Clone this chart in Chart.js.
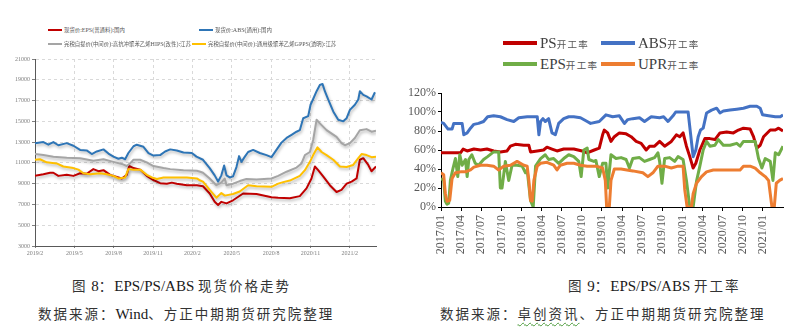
<!DOCTYPE html>
<html>
<head>
<meta charset="utf-8">
<script src="https://cdn.jsdelivr.net/npm/chart.js@4.4.0/dist/chart.umd.min.js"></script>
<style>
body { margin: 0; width: 810px; height: 330px; background: #fff; position: relative; overflow: hidden; font-family: 'Liberation Serif', serif; }
canvas { position: absolute; }
.cjk { font-family: 'Noto Sans CJK SC', sans-serif; }
.lg { position: absolute; display: flex; align-items: center; white-space: nowrap; }
.lg i { display: inline-block; flex: none; }
#legL .lg { font-size: 6px; color: #595959; height: 8px; }
#legL .lg i { width: 14px; height: 2px; margin-right: 2px; }
#legL .cjk { font-size: 5.4px; }
#legR .lg { font-size: 15px; color: #404040; height: 18px; }
#legR .lg i { width: 34px; height: 3.5px; margin-right: 3px; }
#legR .cjk { font-size: 9.5px; letter-spacing: 1.3px; color: #555; }
.cap { position: absolute; font-size: 15px; line-height: 20px; color: #1a1a1a; white-space: nowrap; }
.cap .cjk { font-size: 13.5px; letter-spacing: 2px; color: #333; }
.wavy { text-decoration: underline wavy #4a9a3a; text-decoration-thickness: 1px; text-underline-offset: 3px; }
</style>
</head>
<body>
<canvas id="priceChart" width="390" height="210" style="left:0;top:50px"></canvas>
<canvas id="rateChart" width="400" height="185" style="left:400px;top:80px"></canvas>
<div id="legL"></div>
<div id="legR"></div>
<div class="cap" id="cap8" style="left:72px;top:275px"></div>
<div class="cap" id="src8" style="left:38px;top:303px"></div>
<div class="cap" id="cap9" style="left:568px;top:275px"></div>
<div class="cap" id="src9" style="left:440px;top:303px"></div>
<script>
// ---- 图8 现货价格 (x = months since 2019/2) ----
const priceNames = ['现货价:EPS(普通料):国内', '现货价:ABS(通用):国内',
  '完税自提价(中间价):高抗冲聚苯乙烯HIPS(改性):江苏', '完税自提价(中间价):通用级聚苯乙烯GPPS(透明):江苏'];
const priceColors = ['#C00000', '#2E75B6', '#A5A5A5', '#FFC000'];
const priceTickMonths = [0, 3, 6, 9, 12, 15, 18, 21, 24];
const priceTickLabels = ['2019/2', '2019/5', '2019/8', '2019/11', '2020/2', '2020/5', '2020/8', '2020/11', '2021/2'];

const epsX = [0, 0.64, 1.15, 1.4, 1.78, 2.42, 2.93, 3.44, 3.94, 4.45, 4.83, 5.22, 5.73, 6.11, 6.62, 7.0, 7.18, 7.51, 8.02, 8.52, 9.03, 9.54, 10.05, 10.43, 10.81, 11.58, 12.34, 12.81, 13.32, 13.7, 13.96, 14.21, 14.6, 15.1, 15.87, 16.89, 18.03, 18.54, 19.43, 20.19, 20.7, 21.08, 21.34, 21.59, 21.97, 22.48, 22.99, 23.37, 23.76, 24.14, 24.52, 24.77, 25.03, 25.41, 25.66, 26.0];
const epsY = [9750, 9900, 10050, 10050, 9750, 9850, 9750, 10000, 9950, 10400, 10200, 10300, 9850, 9700, 9500, 9850, 10700, 10500, 10350, 9750, 9350, 9050, 9000, 9100, 9000, 8850, 8850, 8750, 8050, 7250, 6950, 7250, 7100, 7400, 8050, 8000, 7700, 7650, 7600, 7800, 8550, 9500, 10650, 10300, 9700, 8850, 8200, 8400, 9000, 9200, 9500, 11300, 11450, 10800, 10200, 10650];

const absX = [0, 0.64, 1.02, 1.4, 1.78, 2.42, 2.93, 3.44, 3.94, 4.33, 4.71, 5.22, 5.6, 5.98, 6.36, 6.62, 6.87, 7.12, 7.51, 7.76, 8.27, 8.65, 9.03, 9.54, 9.92, 10.31, 10.81, 11.32, 11.96, 12.31, 12.81, 13.32, 13.7, 13.96, 14.21, 14.42, 14.6, 14.85, 15.1, 15.36, 15.56, 15.74, 16.0, 16.25, 16.63, 17.14, 17.65, 18.03, 18.41, 18.79, 19.18, 19.56, 19.94, 20.19, 20.45, 20.83, 21.01, 21.21, 21.47, 21.72, 21.92, 22.1, 22.36, 22.74, 23.12, 23.5, 23.76, 24.01, 24.39, 24.65, 24.77, 25.03, 25.28, 25.66, 25.92];
const absY = [12900, 13000, 12750, 13000, 12700, 12900, 12650, 12250, 12200, 11850, 12100, 12300, 11900, 11600, 11400, 11500, 11350, 11950, 12600, 12750, 12550, 11950, 11700, 11750, 12100, 12300, 12200, 12000, 11950, 11600, 11300, 10500, 9800, 9200, 9800, 10750, 9800, 9600, 9700, 10600, 11650, 11100, 11600, 12050, 12250, 11950, 11750, 11550, 12250, 12950, 13400, 13700, 14000, 14150, 15300, 15500, 16600, 17150, 17900, 18500, 18600, 17900, 17100, 15950, 15150, 15000, 15300, 16100, 16600, 17100, 17900, 17550, 17400, 17100, 17800];

const hipsX = [0, 0.64, 1.4, 2.42, 3.44, 4.45, 5.22, 5.98, 6.62, 7.0, 7.25, 7.51, 8.02, 8.52, 9.03, 9.8, 10.31, 11.32, 12.34, 12.6, 12.81, 13.32, 13.83, 14.21, 14.47, 14.6, 15.1, 15.61, 16.12, 16.89, 18.03, 18.54, 19.18, 19.94, 20.32, 20.58, 20.96, 21.21, 21.47, 21.72, 22.23, 22.99, 23.37, 23.63, 24.01, 24.39, 24.77, 25.28, 25.66, 26.0];
const hipsY = [11850, 11750, 11600, 11500, 11450, 11200, 11350, 11100, 10900, 10700, 10950, 11300, 11300, 11050, 10700, 10500, 10400, 10300, 10250, 10150, 10050, 9500, 8850, 9100, 9500, 8850, 9000, 9250, 9450, 9400, 9500, 9750, 10150, 10550, 10950, 11750, 12050, 13200, 15150, 14800, 14150, 13500, 12900, 12700, 12900, 13400, 14150, 14250, 14000, 14100];

const gppsX = [0, 0.38, 0.89, 1.65, 2.16, 2.93, 3.31, 3.69, 4.2, 4.96, 5.47, 5.98, 6.36, 6.87, 7.12, 7.51, 8.02, 8.52, 8.91, 9.29, 9.8, 10.56, 11.58, 12.34, 12.6, 12.81, 13.32, 13.83, 14.21, 14.47, 15.1, 15.61, 16.25, 16.89, 18.03, 18.54, 18.92, 19.43, 20.19, 20.58, 20.96, 21.21, 21.54, 21.85, 22.23, 22.74, 23.25, 23.76, 24.26, 24.65, 24.9, 25.28, 25.66, 26.0];
const gppsY = [11300, 11350, 11050, 10950, 10650, 10500, 10350, 10000, 9900, 10000, 9900, 9750, 9500, 9600, 10400, 10350, 10350, 9850, 9600, 9450, 9600, 9600, 9600, 9500, 9300, 9200, 8400, 7650, 8100, 7850, 8000, 8250, 8850, 8750, 8700, 9000, 9150, 9300, 9750, 10300, 11100, 11750, 12500, 12050, 11750, 11300, 10650, 10600, 10800, 11450, 11850, 11750, 11550, 11600];

// ---- 图9 开工率 (x = months since 2017/01, %) ----
const rateNames = ['PS开工率', 'ABS开工率', 'EPS开工率', 'UPR开工率'];
const rateColors = ['#C00000', '#4472C4', '#70AD47', '#ED7D31'];
const rateTickMonths = [0, 3, 6, 9, 12, 15, 18, 21, 24, 27, 30, 33, 36, 39, 42, 45, 48];
const rateTickLabels = ['2017/01', '2017/04', '2017/07', '2017/10', '2018/01', '2018/04', '2018/07', '2018/10',
  '2019/01', '2019/04', '2019/07', '2019/10', '2020/01', '2020/04', '2020/07', '2020/10', '2021/01'];

const psX = [0, 2.9, 3.3, 3.9, 4.9, 5.9, 6.85, 7.85, 8.85, 9.85, 10.35, 11.1, 12.35, 13.1, 13.35, 14.35, 15.3, 15.8, 16.55, 17.3, 18.3, 19.8, 21.05, 21.8, 22.85, 23.6, 24.1, 24.35, 24.85, 25.35, 25.85, 26.6, 27.6, 28.35, 29.1, 29.85, 30.6, 31.1, 31.85, 32.6, 33.35, 34.35, 35.1, 35.6, 36.1, 36.6, 37.1, 37.6, 38.0, 38.6, 39.35, 40.1, 40.85, 41.6, 42.6, 43.6, 44.35, 45.1, 46.1, 46.6, 47.1, 47.6, 48.1, 49.1, 49.85, 50.35, 51.0];
const psY = [57, 57, 61, 59, 61, 60, 61, 59, 58, 59, 64, 66, 65, 65, 58, 59, 60, 63, 61, 59, 61, 61, 59, 57, 60, 62, 76, 81, 78, 69, 74, 78, 77, 74, 69, 67, 60, 64, 64, 69, 64, 69, 76, 74, 78, 64, 53, 41, 46, 60, 72, 72, 71, 78, 79, 78, 81, 83, 82, 74, 62, 65, 74, 81, 81, 83, 80];

const absRateX = [0, 0.4, 1.05, 1.65, 1.9, 2.65, 3.15, 3.4, 3.9, 4.4, 4.9, 5.6, 6.35, 6.95, 7.85, 8.85, 9.85, 10.85, 11.6, 12.85, 14.1, 14.35, 14.6, 14.85, 15.2, 15.55, 16.05, 16.55, 17.05, 17.55, 18.3, 19.05, 19.8, 20.8, 21.8, 22.3, 23.6, 24.6, 25.6, 26.6, 27.35, 27.85, 28.6, 29.6, 30.35, 31.35, 32.6, 33.2, 33.85, 34.6, 35.0, 36.1, 36.85, 37.2, 37.6, 38.0, 38.35, 38.7, 39.1, 39.6, 40.35, 41.1, 41.6, 42.1, 43.1, 44.1, 45.1, 46.1, 47.1, 47.6, 47.95, 48.85, 49.85, 50.6, 51.0];
const absRateY = [89, 88, 82, 82, 88, 88, 88, 76, 78, 83, 87, 88, 90, 95, 96, 95, 92, 90, 94, 95, 95, 95, 76, 90, 93, 90, 93, 78, 76, 88, 93, 95, 95, 94, 90, 88, 90, 97, 95, 96, 88, 92, 93, 94, 90, 95, 94, 95, 90, 96, 100, 100, 100, 78, 53, 60, 74, 81, 83, 99, 102, 104, 99, 101, 102, 103, 104, 106, 106, 104, 97, 96, 95, 95, 97];

const epsRateX = [0, 0.4, 0.65, 0.9, 1.15, 1.4, 1.8, 2.15, 2.5, 2.8, 3.15, 3.65, 3.9, 4.15, 4.6, 5.1, 5.6, 6.35, 6.95, 7.85, 8.6, 8.85, 9.1, 9.6, 10.1, 10.6, 11.35, 12.1, 12.6, 12.85, 13.35, 13.75, 14.1, 14.85, 15.55, 16.05, 16.8, 17.55, 18.3, 19.05, 19.8, 20.55, 20.9, 21.3, 21.8, 22.05, 22.8, 23.1, 23.6, 24.1, 24.6, 24.85, 25.35, 26.1, 26.85, 27.6, 28.1, 28.6, 29.6, 30.35, 31.1, 31.85, 32.35, 32.6, 32.95, 33.35, 34.1, 34.85, 35.35, 36.1, 36.6, 37.1, 37.6, 38.1, 38.6, 39.1, 39.6, 40.1, 40.85, 41.35, 42.1, 43.1, 44.1, 44.6, 45.1, 46.1, 46.85, 47.35, 47.85, 48.35, 49.1, 49.5, 49.85, 50.35, 51.0];
const epsRateY = [30, 28, 6, 3, 4, 28, 41, 51, 32, 55, 44, 50, 32, 50, 55, 46, 44, 50, 53, 58, 58, 20, 20, 48, 28, 44, 44, 43, 36, 39, 7, 0, 43, 51, 55, 50, 51, 46, 51, 55, 53, 48, 32, 60, 62, 50, 48, 49, 32, 46, 46, 20, 55, 51, 52, 50, 41, 51, 52, 48, 50, 52, 57, 48, 25, 51, 52, 48, 53, 50, 28, 0, 0, 27, 43, 60, 69, 64, 65, 71, 65, 65, 67, 64, 69, 69, 69, 51, 41, 51, 48, 28, 57, 55, 64];

const uprX = [0, 0.4, 0.65, 0.9, 1.3, 1.65, 2.15, 2.9, 3.65, 4.4, 4.9, 5.9, 6.85, 7.85, 8.6, 9.35, 10.35, 11.35, 12.35, 12.85, 13.1, 13.35, 13.6, 13.85, 14.35, 14.85, 15.8, 16.8, 17.3, 17.8, 18.8, 19.8, 20.8, 21.8, 22.8, 23.1, 24.1, 24.5, 24.7, 25.1, 25.35, 25.85, 26.85, 28.6, 30.1, 30.85, 31.6, 32.35, 33.35, 34.35, 35.35, 36.1, 36.35, 36.7, 37.35, 37.6, 38.1, 38.85, 39.6, 40.6, 42.1, 43.6, 44.6, 45.1, 46.1, 46.85, 47.6, 48.35, 48.85, 49.1, 49.35, 49.7, 50.0, 50.5, 51.0];
const uprY = [36, 34, 14, 6, 7, 30, 36, 37, 37, 39, 42, 44, 44, 43, 39, 43, 44, 48, 44, 43, 28, 7, 6, 28, 43, 46, 47, 44, 39, 44, 46, 46, 44, 43, 43, 43, 41, 28, 0, 0, 28, 40, 40, 38, 36, 32, 36, 43, 43, 41, 43, 43, 18, 0, 0, 14, 25, 32, 37, 39, 39, 39, 39, 43, 43, 41, 36, 32, 28, 14, 0, 0, 25, 28, 30];

const captions = {
  cap8: '图 8：EPS/PS/ABS 现货价格走势',
  src8: '数据来源：Wind、方正中期期货研究院整理',
  cap9: '图 9：EPS/PS/ABS 开工率',
  src9: '数据来源：卓创资讯、方正中期期货研究院整理'
};

// wrap runs of CJK characters so they can get their own font
function rich(str) {
  return str.replace(/[\u3000-\u303f\u3400-\u9fff\uff00-\uffef]+/g, m => '<span class="cjk">' + m + '</span>');
}

function points(xs, ys) {
  return xs.map((x, i) => ({ x: x, y: ys[i] }));
}

function makeLegend(id, names, colors, spots) {
  const box = document.getElementById(id);
  names.forEach((n, i) => {
    const d = document.createElement('div');
    d.className = 'lg';
    d.style.left = spots[i][0] + 'px';
    d.style.top = spots[i][1] + 'px';
    d.innerHTML = '<i style="background:' + colors[i] + '"></i><span>' + rich(n) + '</span>';
    box.append(d);
  });
}

for (const k in captions) {
  let html = rich(captions[k]);
  html = html.replace('卓创资讯', '<span class="wavy">卓创资讯</span>');
  document.getElementById(k).innerHTML = html;
}

makeLegend('legL', priceNames, priceColors, [[48, 26], [199, 26], [48, 40], [192, 40]]);
makeLegend('legR', rateNames, rateColors, [[503, 34], [601, 34], [503, 55], [601, 55]]);

const lineShadow = {
  id: 'lineShadow',
  beforeDatasetDraw(chart) {
    const c = chart.ctx;
    c.save();
    c.shadowColor = 'rgba(0,0,0,0.28)';
    c.shadowBlur = 3;
    c.shadowOffsetX = 1;
    c.shadowOffsetY = 2;
  },
  afterDatasetDraw(chart) {
    chart.ctx.restore();
  }
};

const serif = "'Liberation Serif', serif";

new Chart(document.getElementById('priceChart'), {
  type: 'line',
  data: {
    datasets: [
      { data: points(epsX, epsY), borderColor: priceColors[0], order: 4 },
      { data: points(absX, absY), borderColor: priceColors[1], order: 3 },
      { data: points(hipsX, hipsY), borderColor: priceColors[2], order: 2 },
      { data: points(gppsX, gppsY), borderColor: priceColors[3], order: 1 }
    ]
  },
  options: {
    responsive: false,
    animation: false,
    devicePixelRatio: 1,
    layout: { padding: { top: 9, right: 14, left: 0, bottom: 0 } },
    elements: { point: { radius: 0 }, line: { borderWidth: 2, tension: 0, borderJoinStyle: 'round' } },
    plugins: { legend: { display: false }, tooltip: { enabled: false } },
    scales: {
      x: {
        type: 'linear', min: 0, max: 26,
        afterBuildTicks: s => { s.ticks = priceTickMonths.map(v => ({ value: v })); },
        afterFit: s => { s.height = 14; },
        ticks: {
          autoSkip: false, maxRotation: 0, padding: 2,
          font: { family: serif, size: 6 }, color: '#7F7F7F',
          callback: v => priceTickLabels[priceTickMonths.indexOf(v)]
        },
        grid: { color: '#D9D9D9', tickColor: '#7F7F7F', tickLength: 2 },
        border: { color: '#595959', dash: [3, 3] }
      },
      y: {
        min: 3000, max: 21000,
        afterFit: s => { s.width = 35; },
        ticks: {
          stepSize: 2000, padding: 2,
          font: { family: serif, size: 6 }, color: '#7F7F7F',
          callback: v => String(v)
        },
        grid: { color: '#D9D9D9', tickColor: '#7F7F7F', tickLength: 3 },
        border: { color: '#595959', dash: [3, 3] }
      }
    }
  },
  plugins: [lineShadow]
});

new Chart(document.getElementById('rateChart'), {
  type: 'line',
  data: {
    datasets: [
      { data: points(psX, psY), borderColor: rateColors[0], order: 4 },
      { data: points(absRateX, absRateY), borderColor: rateColors[1], order: 3 },
      { data: points(epsRateX, epsRateY), borderColor: rateColors[2], order: 2 },
      { data: points(uprX, uprY), borderColor: rateColors[3], order: 1 }
    ]
  },
  options: {
    responsive: false,
    animation: false,
    devicePixelRatio: 1,
    layout: { padding: { top: 13, right: 17, left: 0, bottom: 0 } },
    elements: { point: { radius: 0 }, line: { borderWidth: 3, tension: 0, borderJoinStyle: 'round' } },
    plugins: { legend: { display: false }, tooltip: { enabled: false } },
    scales: {
      x: {
        type: 'linear', min: 0, max: 51,
        afterBuildTicks: s => { s.ticks = rateTickMonths.map(v => ({ value: v })); },
        afterFit: s => { s.height = 58; },
        ticks: {
          autoSkip: false, minRotation: 90, maxRotation: 90, padding: 4,
          font: { family: serif, size: 12 }, color: '#595959',
          callback: v => rateTickLabels[rateTickMonths.indexOf(v)]
        },
        grid: { drawOnChartArea: false, color: '#000', tickColor: '#000', tickLength: 4 },
        border: { color: '#000', width: 1 }
      },
      y: {
        min: 0, max: 120,
        afterFit: s => { s.width = 41; },
        ticks: {
          stepSize: 20, padding: 2,
          font: { family: serif, size: 12 }, color: '#595959',
          callback: v => v + '%'
        },
        grid: { drawOnChartArea: false, color: '#000', tickColor: '#000', tickLength: 3 },
        border: { color: '#000', width: 1 }
      }
    }
  }
});
</script>
</body>
</html>
